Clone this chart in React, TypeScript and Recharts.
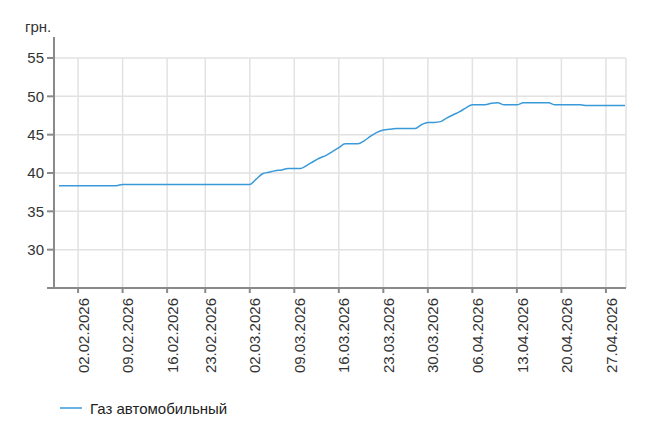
import { LineChart, Line, XAxis, YAxis, CartesianGrid, Legend } from "recharts";

// days present in the source data (22.02 has no quote)
const janDays = [30, 31];
const febDays = [1, 2, 3, 4, 5, 6, 7, 8, 9, 10, 11, 12, 13, 14, 15, 16, 17, 18, 19, 20, 21, 23, 24, 25, 26, 27, 28];
const marDays = [1, 2, 3, 4, 5, 6, 7, 8, 9, 10, 11, 12, 13, 14, 15, 16, 17, 18, 19, 20, 21, 22, 23, 24, 25, 26, 27, 28, 29, 30, 31];
const aprDays = [1, 2, 3, 4, 5, 6, 7, 8, 9, 10, 11, 12, 13, 14, 15, 16, 17, 18, 19, 20, 21, 22, 23, 24, 25, 26, 27, 28, 29, 30];

// грн. per litre
const janPrices = [38.35, 38.35];
const febPrices = [
  38.35, 38.35, 38.35, 38.35, 38.35, 38.35, 38.35, 38.35,
  38.5, 38.5, 38.5, 38.5, 38.5, 38.5, 38.5, 38.5, 38.5, 38.5, 38.5, 38.5, 38.5,
  38.5, 38.5, 38.5, 38.5, 38.5, 38.5,
];
const marPrices = [
  38.5, 38.5, 39.2, 39.9, 40.1, 40.3, 40.4, 40.6, 40.6, 40.6, 41.0, 41.5, 41.95, 42.3, 42.8, 43.3,
  43.8, 43.8, 43.8, 44.2, 44.8, 45.3, 45.6, 45.7, 45.8, 45.8, 45.8, 45.8, 46.3, 46.6, 46.6,
];
const aprPrices = [
  46.7, 47.2, 47.6, 48.0, 48.5, 48.9, 48.9, 48.9, 49.1, 49.15, 48.9, 48.9, 48.9,
  49.15, 49.15, 49.15, 49.15, 49.15, 48.9, 48.9, 48.9, 48.9, 48.9,
  48.8, 48.8, 48.8, 48.8, 48.8, 48.8, 48.8,
];

const xTicks = [
  "02.02.2026", "09.02.2026", "16.02.2026", "23.02.2026", "02.03.2026", "09.03.2026", "16.03.2026",
  "23.03.2026", "30.03.2026", "06.04.2026", "13.04.2026", "20.04.2026", "27.04.2026",
];
const yTicks = [25, 30, 35, 40, 45, 50, 55];

const seriesName = "Газ автомобильный";
const unitLabel = "грн.";

const months: [string, number[], number[]][] = [
  ["01", janDays, janPrices],
  ["02", febDays, febPrices],
  ["03", marDays, marPrices],
  ["04", aprDays, aprPrices],
];

const data = months.flatMap(([m, days, prices]) =>
  days.map((d, i) => ({
    date: `${String(d).padStart(2, "0")}.${m}.2026`,
    gas: prices[i],
  }))
);

const AXIS = "#8a8a8a";
const LINE = "#3a9ad9";
const FS = 15;

function UnitLabel({ viewBox }: any) {
  const x = viewBox.x + viewBox.width;
  return (
    <g>
      <line x1={x} y1={viewBox.y} x2={x} y2={viewBox.y - 21} stroke={AXIS} strokeWidth={2} />
      <text x={25} y={32} fontSize={FS} fill="#333">{unitLabel}</text>
    </g>
  );
}

function LegendRow() {
  return (
    <div style={{ display: "flex", alignItems: "center", height: 20, fontSize: FS, color: "#222" }}>
      <svg width={22} height={4} style={{ marginRight: 8 }}>
        <line x1={0} y1={2} x2={22} y2={2} stroke={LINE} strokeWidth={1.5} />
      </svg>
      <span>{seriesName}</span>
    </div>
  );
}

export default function App() {
  return (
    <div style={{ position: "absolute", left: 0, top: 0, fontFamily: "Arial, 'Liberation Sans', sans-serif" }}>
      <LineChart width={657} height={440} data={data} margin={{ top: 58, right: 31, bottom: 22, left: 0 }}>
        <CartesianGrid stroke="#e2e2e2" strokeWidth={1.5} />
        <XAxis
          dataKey="date"
          ticks={xTicks}
          interval={0}
          padding={{ left: 5, right: 1 }}
          height={110}
          tickSize={5}
          tickMargin={5}
          stroke={AXIS}
          strokeWidth={2}
          tick={{ angle: -90, textAnchor: "end", verticalAnchor: "middle", fontSize: FS, fill: "#333" }}
        />
        <YAxis
          domain={[25, 55]}
          ticks={yTicks}
          interval={0}
          width={54}
          tickSize={7}
          tickMargin={3}
          stroke={AXIS}
          strokeWidth={2}
          tick={{ fontSize: FS, fill: "#333" }}
          tickFormatter={(v: number) => (v === 25 ? "" : String(v))}
          label={{ content: (p: any) => <UnitLabel viewBox={p.viewBox} /> }}
        />
        <Legend verticalAlign="bottom" align="left" wrapperStyle={{ left: 60 }} content={() => <LegendRow />} />
        <Line
          type="monotone"
          dataKey="gas"
          name={seriesName}
          stroke={LINE}
          strokeWidth={1.5}
          dot={false}
          isAnimationActive={false}
        />
      </LineChart>
    </div>
  );
}
